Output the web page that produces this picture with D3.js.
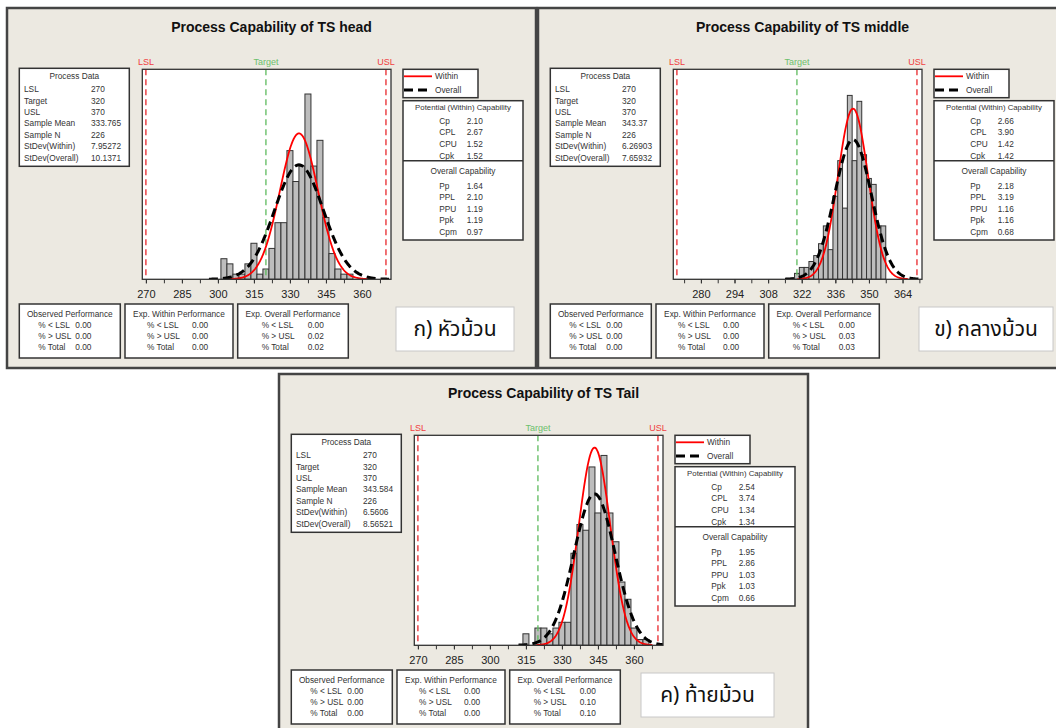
<!DOCTYPE html>
<html>
<head>
<meta charset="utf-8">
<script src="https://cdn.jsdelivr.net/npm/d3@7"></script>
<style>
body { margin: 0; background: #fff; }
svg text { font-family: "Liberation Sans", Arial, sans-serif; }
</style>
</head>
<body>
<div id="chart-area"></div>
<script>
// ---- data ----
var panelNames = ["head", "middle", "Tail"];
var thaiLabels = ["ก) หัวม้วน", "ข) กลางม้วน", "ค) ท้ายม้วน"];
var specLimits = [270, 320, 370]; // LSL, Target, USL
var sampleMeans = [333.765, 343.37, 343.584];
var sampleMeanText = ["333.765", "343.37", "343.584"];
var sampleN = [226, 226, 226];
var sdWithin = [7.95272, 6.26903, 6.5606];
var sdOverall = [10.1371, 7.65932, 8.56521];
var sdWithinText = ["7.95272", "6.26903", "6.5606"];
var sdOverallText = ["10.1371", "7.65932", "8.56521"];

var binWidths = [2.5, 2, 2.5];
var headMids = [302.5, 305, 307.5, 310, 312.5, 315, 317.5, 320, 322.5, 325, 327.5, 330, 332.5, 335, 337.5, 340, 342.5, 345, 347.5, 350, 352.5, 355];
var headCounts = [4, 3, 1, 1, 3, 7, 1, 2, 6, 11, 11, 25, 19, 22, 36, 22, 27, 12, 5, 2, 1, 1];
var middleMids = [320, 322, 324, 326, 328, 330, 332, 334, 336, 338, 340, 342, 344, 346, 348, 350, 352, 354, 356];
var middleCounts = [1, 2, 2, 3, 4, 6, 9, 5, 14, 20, 12, 31, 20, 30, 21, 17, 16, 9, 9];
var tailMids = [315, 317.5, 320, 322.5, 325, 327.5, 330, 332.5, 335, 337.5, 340, 342.5, 345, 347.5, 350, 352.5, 355, 357.5, 360, 362.5, 365];
var tailCounts = [2, 0, 3, 3, 2, 3, 4, 4, 16, 21, 20, 31, 23, 33, 23, 18, 11, 8, 3, 1, 1];
var binMids = [headMids, middleMids, tailMids];
var binCounts = [headCounts, middleCounts, tailCounts];
var yMax = [40.8, 35.4, 36.5];

var tickLabels = [
    [270, 285, 300, 315, 330, 345, 360],
    [280, 294, 308, 322, 336, 350, 364],
    [270, 285, 300, 315, 330, 345, 360]
];
var minorTicks = [
    [270, 277.5, 285, 292.5, 300, 307.5, 315, 322.5, 330, 337.5, 345, 352.5, 360, 367.5],
    [273, 280, 287, 294, 301, 308, 315, 322, 329, 336, 343, 350, 357, 364, 371],
    [270, 277.5, 285, 292.5, 300, 307.5, 315, 322.5, 330, 337.5, 345, 352.5, 360, 367.5]
];

var withinNames = ["Cp", "CPL", "CPU", "Cpk"];
var withinValues = [["2.10", "2.67", "1.52", "1.52"], ["2.66", "3.90", "1.42", "1.42"], ["2.54", "3.74", "1.34", "1.34"]];
var overallNames = ["Pp", "PPL", "PPU", "Ppk", "Cpm"];
var overallValues = [["1.64", "2.10", "1.19", "1.19", "0.97"], ["2.18", "3.19", "1.16", "1.16", "0.68"], ["1.95", "2.86", "1.03", "1.03", "0.66"]];

var perfNames = ["% < LSL", "% > USL", "% Total"];
var observedPerf = [["0.00", "0.00", "0.00"], ["0.00", "0.00", "0.00"], ["0.00", "0.00", "0.00"]];
var expWithinPerf = [["0.00", "0.00", "0.00"], ["0.00", "0.00", "0.00"], ["0.00", "0.00", "0.00"]];
var expOverallPerf = [["0.00", "0.02", "0.02"], ["0.00", "0.03", "0.03"], ["0.00", "0.10", "0.10"]];

// ---- layout ----
var panelPos = [[7, 8], [538, 8], [279, 374]];
var panelW = 529, panelH = 360;
var plot = { left: 135.3, top: 61.3, width: 248.7, height: 210 };
var xDomain = [268.5, 372.1];
var labelBox = [{ x: 389, w: 118 }, { x: 381, w: 134 }, { x: 362, w: 133 }];
var textCol = "#333";

var svg = d3.select("#chart-area")
    .append("svg")
    .attr("width", 1056)
    .attr("height", 728);

function pdf(v, m, s) {
    return Math.exp(-0.5 * Math.pow((v - m) / s, 2)) / (s * Math.sqrt(2 * Math.PI));
}

function txt(g, x, y, s, anchor, size) {
    return g.append("text")
        .attr("x", x).attr("y", y)
        .attr("dy", "0.35em")
        .attr("text-anchor", anchor || "start")
        .attr("font-size", (size || 8.3) + "px")
        .attr("fill", textCol)
        .text(s);
}

function box(g, x, y, w, h) {
    g.append("rect")
        .attr("x", x).attr("y", y).attr("width", w).attr("height", h)
        .attr("fill", "#fff")
        .attr("stroke", "#333")
        .attr("stroke-width", 1.5);
}

function perfBox(g, x, w, title, values, lx, vx) {
    box(g, x, 296, w, 54);
    txt(g, x + w / 2, 306, title, "middle");
    perfNames.forEach(function (n, k) {
        txt(g, x + lx, 317 + k * 10.9, n);
        txt(g, x + vx, 317 + k * 10.9, values[k]);
    });
}

function drawPanel(i) {
    var g = svg.append("g")
        .attr("transform", "translate(" + panelPos[i][0] + "," + panelPos[i][1] + ")");

    g.append("rect")
        .attr("width", panelW).attr("height", panelH)
        .attr("fill", "#ECE9E1")
        .attr("stroke", "#444")
        .attr("stroke-width", 2.5);

    g.append("text")
        .attr("x", panelW / 2).attr("y", 24)
        .attr("text-anchor", "middle")
        .attr("font-size", "14px")
        .attr("font-weight", "bold")
        .attr("fill", "#111")
        .text("Process Capability of TS " + panelNames[i]);

    var x = d3.scaleLinear().domain(xDomain).range([plot.left, plot.left + plot.width]);
    var y = d3.scaleLinear().domain([0, yMax[i]]).range([plot.top + plot.height, plot.top]);
    var bw = binWidths[i];

    g.append("rect")
        .attr("x", plot.left).attr("y", plot.top)
        .attr("width", plot.width).attr("height", plot.height)
        .attr("fill", "#fff");

    // histogram
    g.selectAll("rect.bar")
        .data(d3.zip(binMids[i], binCounts[i]).filter(function (d) { return d[1] > 0; }))
        .enter()
        .append("rect")
        .attr("class", "bar")
        .attr("x", function (d) { return x(d[0] - bw / 2); })
        .attr("y", function (d) { return y(d[1]); })
        .attr("width", function (d) { return x(d[0] + bw / 2) - x(d[0] - bw / 2); })
        .attr("height", function (d) { return y(0) - y(d[1]); })
        .attr("fill", "#BDBDBD")
        .attr("stroke", "#333")
        .attr("stroke-width", 1);

    // spec lines
    var specColors = ["#E8262B", "#5DBB5D", "#E8262B"];
    var specText = ["LSL", "Target", "USL"];
    specLimits.forEach(function (v, k) {
        g.append("line")
            .attr("x1", x(v)).attr("x2", x(v))
            .attr("y1", plot.top).attr("y2", plot.top + plot.height)
            .attr("stroke", specColors[k])
            .attr("stroke-width", 1.3)
            .attr("stroke-dasharray", "6,4");
        g.append("text")
            .attr("x", x(v)).attr("y", plot.top - 4)
            .attr("text-anchor", "middle")
            .attr("font-size", "9px")
            .attr("fill", k === 1 ? "#6CC06C" : "#F04040")
            .text(specText[k]);
    });

    // fitted normal curves
    var clipId = "clip" + i;
    g.append("clipPath").attr("id", clipId)
        .append("rect")
        .attr("x", plot.left).attr("y", plot.top)
        .attr("width", plot.width).attr("height", plot.height);
    var line = d3.line()
        .x(function (d) { return x(d[0]); })
        .y(function (d) { return y(d[1]); });
    function curve(mean, sd) {
        var pts = [];
        var lo = Math.max(xDomain[0], mean - 3.7 * sd), hi = Math.min(xDomain[1], mean + 3.7 * sd);
        for (var v = lo; v <= hi; v += 0.2) pts.push([v, sampleN[i] * bw * pdf(v, mean, sd)]);
        return pts;
    }
    g.append("path")
        .attr("clip-path", "url(#" + clipId + ")")
        .attr("d", line(curve(sampleMeans[i], sdWithin[i])))
        .attr("fill", "none")
        .attr("stroke", "#FF0000")
        .attr("stroke-width", 1.8);
    g.append("path")
        .attr("clip-path", "url(#" + clipId + ")")
        .attr("d", line(curve(sampleMeans[i], sdOverall[i])))
        .attr("fill", "none")
        .attr("stroke", "#000")
        .attr("stroke-width", 3)
        .attr("stroke-dasharray", "9,5");

    // frame + axis
    g.append("rect")
        .attr("x", plot.left).attr("y", plot.top)
        .attr("width", plot.width).attr("height", plot.height)
        .attr("fill", "none")
        .attr("stroke", "#333")
        .attr("stroke-width", 1.3);

    var minorAxis = g.append("g")
        .attr("transform", "translate(0," + (plot.top + plot.height) + ")")
        .call(d3.axisBottom(x).tickValues(minorTicks[i]).tickSize(4).tickFormat(""));
    minorAxis.select(".domain").remove();
    minorAxis.selectAll("line").attr("stroke", "#333");

    var xAxis = g.append("g")
        .attr("transform", "translate(0," + (plot.top + plot.height) + ")")
        .call(d3.axisBottom(x).tickValues(tickLabels[i]).tickSize(4).tickPadding(7));
    xAxis.select(".domain").remove();
    xAxis.selectAll("line").attr("stroke", "#333");
    xAxis.selectAll("text")
        .attr("font-size", "11px")
        .attr("fill", "#222")
        .style("font-family", "'Liberation Sans', Arial, sans-serif");

    // process data
    box(g, 12.3, 60.3, 110, 98);
    txt(g, 67.3, 68, "Process Data", "middle");
    var pdNames = ["LSL", "Target", "USL", "Sample Mean", "Sample N", "StDev(Within)", "StDev(Overall)"];
    var pdVals = [String(specLimits[0]), String(specLimits[1]), String(specLimits[2]),
        sampleMeanText[i], String(sampleN[i]), sdWithinText[i], sdOverallText[i]];
    pdNames.forEach(function (n, k) {
        txt(g, 17, 81.3 + k * 11.4, n);
        txt(g, 84, 81.3 + k * 11.4, pdVals[k]);
    });

    // legend
    box(g, 396, 61.3, 75, 28.4);
    g.append("line").attr("x1", 397).attr("x2", 425).attr("y1", 68.3).attr("y2", 68.3)
        .attr("stroke", "#FF0000").attr("stroke-width", 1.8);
    g.append("line").attr("x1", 397).attr("x2", 425).attr("y1", 82).attr("y2", 82)
        .attr("stroke", "#000").attr("stroke-width", 3).attr("stroke-dasharray", "9,5");
    txt(g, 428, 68.3, "Within");
    txt(g, 428, 82, "Overall");

    // capability
    box(g, 396, 92.7, 120, 139.3);
    g.append("line").attr("x1", 396).attr("x2", 516).attr("y1", 152.7).attr("y2", 152.7)
        .attr("stroke", "#333").attr("stroke-width", 1.5);
    txt(g, 456, 99.7, "Potential (Within) Capability", "middle", 7.8);
    withinNames.forEach(function (n, k) {
        txt(g, 432.3, 112.7 + k * 11.7, n);
        txt(g, 459.7, 112.7 + k * 11.7, withinValues[i][k]);
    });
    txt(g, 456, 162.7, "Overall Capability", "middle");
    overallNames.forEach(function (n, k) {
        txt(g, 432.3, 177.7 + k * 11.5, n);
        txt(g, 459.7, 177.7 + k * 11.5, overallValues[i][k]);
    });

    // performance boxes
    perfBox(g, 12.3, 101, "Observed Performance", observedPerf[i], 19, 56);
    perfBox(g, 118, 108, "Exp. Within Performance", expWithinPerf[i], 22, 67);
    perfBox(g, 230.7, 110.6, "Exp. Overall Performance", expOverallPerf[i], 24, 70);

    // thai label
    g.append("rect")
        .attr("x", labelBox[i].x).attr("y", 299)
        .attr("width", labelBox[i].w).attr("height", 44)
        .attr("fill", "#fff")
        .attr("stroke", "#C8C8C8");
    g.append("text")
        .attr("x", labelBox[i].x + labelBox[i].w / 2).attr("y", 321)
        .attr("dy", "0.35em")
        .attr("text-anchor", "middle")
        .attr("font-size", "21px")
        .attr("fill", "#111")
        .style("font-family", "'Noto Sans Thai', 'Noto Sans', 'DejaVu Sans', sans-serif")
        .text(thaiLabels[i]);
}

[0, 1, 2].forEach(drawPanel);
</script>
</body>
</html>
